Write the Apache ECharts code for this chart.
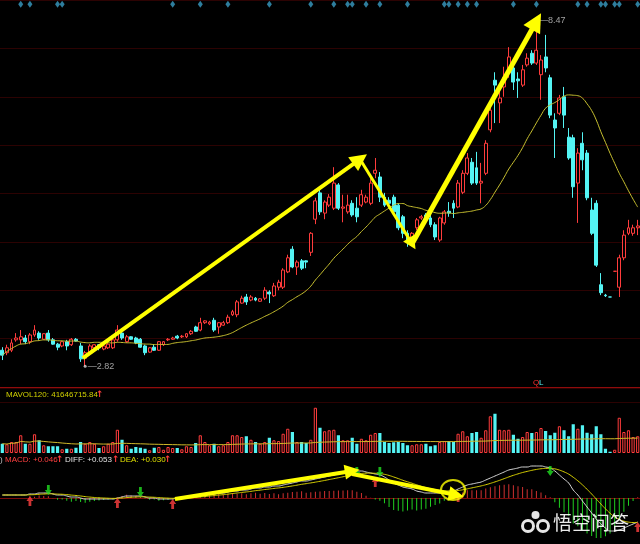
<!DOCTYPE html>
<html><head><meta charset="utf-8">
<script src="https://cdn.jsdelivr.net/npm/echarts@6/dist/echarts.min.js"></script>
<style>html,body{margin:0;padding:0;background:#000}#c{width:640px;height:544px}</style>
</head><body><div id="c"></div>
<script>
const opens = [3.08,3.04,3.08,3.25,3.25,3.28,3.22,3.33,3.36,3.26,
3.36,3.25,3.18,3.15,3.22,3.17,3.26,3.15,2.95,3.04,
3.12,3.17,3.10,3.12,3.12,3.25,3.36,3.22,3.30,3.28,
3.26,3.15,3.05,3.13,3.08,3.17,3.25,3.26,3.31,3.30,
3.30,3.35,3.46,3.41,3.53,3.51,3.57,3.46,3.49,3.53,
3.66,3.66,3.85,3.95,3.90,3.93,3.88,3.93,4.03,3.97,
4.11,4.11,4.36,4.73,4.44,4.54,4.54,4.68,5.22,5.65,
5.32,5.45,5.40,5.78,5.40,5.34,5.48,5.40,5.45,5.50,
5.48,5.97,5.91,5.58,5.53,5.58,5.45,5.26,4.99,4.88,
5.08,5.24,5.29,5.24,5.13,4.88,5.16,5.35,5.48,5.42,
5.66,5.97,6.15,6.06,5.81,5.97,6.68,7.49,7.12,7.38,
7.61,7.69,7.51,7.41,7.74,7.93,7.77,7.58,7.87,7.53,
6.84,6.95,7.22,6.56,6.55,5.81,6.46,6.30,5.37,5.48,
4.15,3.98,3.95,4.37,4.11,4.59,4.99,4.99,5.08];
const closes = [3.00,3.12,3.20,3.28,3.30,3.22,3.33,3.41,3.28,3.35,
3.25,3.18,3.13,3.22,3.15,3.26,3.23,2.94,3.04,3.15,
3.17,3.12,3.15,3.18,3.25,3.41,3.28,3.30,3.26,3.20,
3.13,3.04,3.12,3.08,3.22,3.22,3.26,3.28,3.28,3.31,
3.35,3.39,3.39,3.53,3.56,3.54,3.41,3.53,3.53,3.62,
3.71,3.87,3.93,3.87,3.95,3.90,3.92,4.06,4.00,4.13,
4.19,4.39,4.59,4.44,4.52,4.42,4.52,4.99,5.52,5.34,
5.50,5.58,5.81,5.40,5.42,5.45,5.29,5.26,5.62,5.58,
5.81,6.02,5.58,5.45,5.48,5.34,5.08,4.99,4.85,4.99,
5.21,5.26,5.24,5.13,4.93,5.24,5.34,5.32,5.40,5.81,
5.97,6.22,5.81,5.81,5.84,6.46,7.00,7.41,7.20,7.54,
7.87,7.46,7.48,7.66,7.85,7.77,7.98,7.82,7.69,6.92,
6.71,7.20,6.92,6.22,5.75,6.30,6.19,5.57,4.99,4.47,
4.02,3.97,3.95,4.37,4.59,4.96,5.08,5.08,5.11];
const lows = [2.92,3.00,3.05,3.22,3.18,3.18,3.18,3.30,3.25,3.25,
3.22,3.17,3.08,3.13,3.08,3.15,3.22,2.89,2.82,3.00,
3.10,3.08,3.08,3.10,3.10,3.22,3.25,3.20,3.25,3.18,
3.12,3.00,3.04,3.07,3.07,3.15,3.23,3.25,3.26,3.28,
3.28,3.33,3.38,3.39,3.51,3.49,3.38,3.35,3.48,3.51,
3.64,3.62,3.84,3.82,3.88,3.88,3.87,3.90,3.85,3.95,
4.06,4.08,4.34,4.42,4.31,4.39,4.42,4.62,5.14,5.29,
5.22,5.42,5.37,5.37,5.17,5.31,5.26,5.17,5.42,5.48,
5.45,5.89,5.50,5.42,5.45,5.31,5.04,4.91,4.77,4.83,
5.04,5.21,5.21,5.09,4.88,4.85,5.13,5.26,5.24,5.40,
5.63,5.94,5.78,5.78,5.48,5.94,6.64,6.79,6.79,7.22,
7.53,7.33,7.20,7.38,7.71,7.74,7.74,7.17,7.62,6.87,
6.22,6.92,6.71,6.19,5.57,5.16,6.02,5.53,4.96,4.44,
3.98,3.95,3.95,4.37,3.95,4.55,4.96,4.95,4.96];
const highs = [3.13,3.17,3.26,3.36,3.41,3.33,3.36,3.49,3.39,3.36,
3.41,3.28,3.20,3.23,3.25,3.28,3.28,3.20,3.07,3.18,
3.18,3.18,3.17,3.20,3.26,3.49,3.41,3.33,3.31,3.30,
3.28,3.17,3.13,3.17,3.23,3.23,3.28,3.30,3.33,3.33,
3.36,3.41,3.48,3.61,3.57,3.56,3.61,3.54,3.56,3.66,
3.74,3.90,3.97,4.00,3.98,3.95,3.93,4.11,4.06,4.18,
4.23,4.42,4.64,4.78,4.55,4.57,4.55,5.01,5.57,5.70,
5.53,5.63,6.07,5.81,5.62,5.62,5.53,5.58,5.70,5.62,
5.89,6.22,5.99,5.65,5.58,5.62,5.48,5.29,5.04,5.01,
5.24,5.29,5.32,5.29,5.17,5.26,5.37,5.50,5.53,5.86,
6.02,6.30,6.22,6.32,6.14,6.51,7.17,7.62,7.33,7.71,
8.03,7.74,7.62,7.74,7.93,7.98,8.47,7.90,8.23,7.58,
6.95,7.25,7.38,6.71,6.60,6.38,6.64,6.35,5.57,5.53,
4.34,4.00,3.95,4.37,4.64,5.04,5.21,5.13,5.21];
// volume, millions of shares
const volumes = [37,35,44,44,71,37,37,75,51,31,
27,27,27,15,17,17,21,44,37,44,
37,20,27,37,44,93,53,31,17,24,
21,17,11,21,24,13,24,20,20,15,
27,24,40,71,44,31,37,27,31,44,
71,71,64,67,53,44,37,44,61,51,
48,77,97,84,44,44,40,53,181,101,
87,91,93,71,51,51,61,37,57,51,
73,80,80,44,40,43,44,40,31,31,
35,35,37,27,31,44,48,48,44,77,
87,67,80,84,61,91,147,157,93,91,
93,73,57,64,84,80,84,100,88,71,
81,107,91,67,115,97,111,81,75,107,
75,17,5,13,141,84,91,64,67];
const diffValues = [0.03,0.03,0.03,0.03,0.03,0.03,0.04,0.04,0.05,0.05,
0.05,0.04,0.03,0.03,0.02,0.01,0.01,0.00,-0.01,-0.01,
-0.01,-0.01,-0.01,-0.01,-0.01,0.00,0.01,0.02,0.02,0.02,
0.02,0.01,0.00,0.00,-0.01,-0.01,-0.01,-0.01,0.00,0.00,
0.01,0.01,0.02,0.03,0.03,0.04,0.04,0.05,0.05,0.06,
0.07,0.07,0.08,0.08,0.09,0.10,0.10,0.11,0.11,0.12,
0.12,0.13,0.14,0.15,0.16,0.17,0.17,0.18,0.19,0.20,
0.21,0.22,0.23,0.24,0.25,0.26,0.27,0.27,0.27,0.26,
0.25,0.24,0.23,0.21,0.18,0.15,0.13,0.11,0.10,0.09,
0.07,0.06,0.05,0.05,0.05,0.05,0.06,0.06,0.07,0.09,
0.11,0.13,0.14,0.15,0.16,0.18,0.20,0.22,0.24,0.26,
0.28,0.29,0.30,0.31,0.31,0.32,0.32,0.32,0.31,0.30,
0.27,0.23,0.19,0.15,0.08,0.03,-0.03,-0.09,-0.15,-0.21,
-0.26,-0.30,-0.33,-0.33,-0.32,-0.30,-0.28,-0.26,-0.24];
const diamondIdx = [4,6,12,13,37,43,49,58,67,72,75,76,79,82,88,96,97,99,101,103,111,116,125,127,130,131,133,134,138];
const buySignals = [[6,-0.03],[25,-0.05],[37,-0.06],[81,0.16],[99,0.01],[138,-0.29]];
const sellSignals = [[10,0.08],[30,0.06],[77,0.26],[82,0.26],[119,0.27]];
const priceArrows = [
  {from:[17.5,2.95], to:[77.7,6.20], width:4, head:17},
  {from:[77.7,6.20], to:[89.0,4.82], width:3, head:13},
  {from:[89.0,4.82], to:[116.0,8.45], width:5, head:19}
];
const macdArrows = [
  {from:[37.5,-0.01], to:[76.0,0.27], width:4, head:15},
  {from:[76.0,0.24], to:[98.6,0.03], width:4, head:15}
];
const macdCircle = [[97.9,0.08]];
const lowMark = [18, 2.82];
const highMark = [116, 8.47];

const N = closes.length;
const categories = closes.map((_, i) => String(i + 1));
const RED = '#ff3c3c', CYAN = '#54f4f4', GREEN = '#20d020';

function movingAverage(arr, n) {
  return arr.map((_, i) => {
    const s = Math.max(0, i - n + 1); let sum = 0;
    for (let j = s; j <= i; j++) sum += arr[j];
    return +(sum / (i - s + 1)).toFixed(3);
  });
}
const ma20 = movingAverage(closes, 20);
const mavol120 = movingAverage(volumes, 120);
const dea = [];
diffValues.forEach((d, i) => dea.push(i === 0 ? d : dea[i - 1] * 0.8 + d * 0.2));
const macdHist = diffValues.map((d, i) => +(2 * (d - dea[i])).toFixed(4));

function isUp(i) {
  if (closes[i] > opens[i]) return true;
  if (closes[i] < opens[i]) return false;
  return i > 0 ? closes[i] >= closes[i - 1] : true;
}

const chart = echarts.init(document.getElementById('c'));
const arrowUp = 'path://M5 0 L10 6 L7 6 L7 12 L3 12 L3 6 L0 6 Z';
const txt = (x, y, text, color, size) => ({
  type: 'text', x, y, z: 100,
  style: { text, fill: color, font: (size || 8) + 'px "Liberation Sans", Arial, sans-serif', textVerticalAlign: 'middle' }
});
const upMark = (x, y) => ({ type: 'text', x, y, z: 100, style: { text: '↑', fill: RED, font: 'bold 9px "DejaVu Sans"', textVerticalAlign: 'middle' } });

chart.setOption({
  backgroundColor: '#000',
  animation: false,
  grid: [
    { left: 0, right: 0, top: 0, height: 387 },
    { left: 0, right: 0, top: 388, height: 65 },
    { left: 0, right: 0, top: 458, height: 81 }
  ],
  xAxis: [
    { type: 'category', gridIndex: 0, data: categories, axisLine: { lineStyle: { color: '#900c0c' } }, axisTick: { show: false }, axisLabel: { show: false } },
    { type: 'category', gridIndex: 1, data: categories, show: false },
    { type: 'category', gridIndex: 2, data: categories, axisLine: { lineStyle: { color: '#7a0a0a' } }, axisTick: { show: false }, axisLabel: { show: false } },
    { type: 'value', gridIndex: 0, min: -0.5, max: N - 0.5, show: false },
    { type: 'value', gridIndex: 2, min: -0.5, max: N - 0.5, show: false }
  ],
  yAxis: [
    { type: 'value', gridIndex: 0, min: 2.48, max: 8.80, interval: 0.79, axisLine: { show: false }, axisTick: { show: false }, axisLabel: { show: false },
      splitLine: { lineStyle: { color: '#2c0202' } } },
    { type: 'value', gridIndex: 1, min: 0, max: 260, interval: 204, axisLine: { show: false }, axisTick: { show: false }, axisLabel: { show: false },
      splitLine: { showMinLine: false, lineStyle: { color: '#2c0202' } } },
    { type: 'value', gridIndex: 2, min: -0.41, max: 0.40, axisLine: { show: false }, axisTick: { show: false }, axisLabel: { show: false }, splitLine: { show: false } }
  ],
  series: [
    { type: 'candlestick', xAxisIndex: 0, yAxisIndex: 0, barWidth: 3.4,
      data: categories.map((_, i) => [opens[i], closes[i], lows[i], highs[i]]),
      itemStyle: { color: '#000', color0: CYAN, borderColor: RED, borderColor0: CYAN, borderWidth: 1 } },
    { type: 'line', xAxisIndex: 0, yAxisIndex: 0, data: ma20, symbol: 'none', smooth: true,
      lineStyle: { color: '#c8c030', width: 1 } },
    { type: 'scatter', xAxisIndex: 0, yAxisIndex: 0, symbol: 'diamond', symbolSize: [5, 7],
      data: diamondIdx.map(i => [i, 8.73]), itemStyle: { color: '#3a9cc4' } },
    { type: 'scatter', xAxisIndex: 0, yAxisIndex: 0, symbol: 'circle', symbolSize: 3, z: 20,
      data: [lowMark, highMark], itemStyle: { color: '#d8d8d8' },
      label: { show: true, position: 'right', distance: 1, color: '#c8c8c8', fontSize: 9,
        fontFamily: 'Liberation Sans', formatter: p => '—' + p.value[1].toFixed(2) } },
    { type: 'lines', coordinateSystem: 'cartesian2d', xAxisIndex: 3, yAxisIndex: 0, z: 30,
      data: priceArrows.map(a => ({ coords: [a.from, a.to], lineStyle: { width: a.width }, symbolSize: a.head })),
      symbol: ['none', 'triangle'], symbolSize: 14,
      lineStyle: { color: '#ffff00', opacity: 1, curveness: 0 } },
    { type: 'bar', xAxisIndex: 1, yAxisIndex: 1, barWidth: 3.2,
      data: volumes.map((v, i) => ({ value: v, itemStyle: isUp(i)
        ? { color: '#000', borderColor: RED, borderWidth: 1 }
        : { color: CYAN } })) },
    { type: 'line', xAxisIndex: 1, yAxisIndex: 1, data: mavol120, symbol: 'none',
      lineStyle: { color: '#d0b828', width: 1 } },
    { type: 'bar', xAxisIndex: 2, yAxisIndex: 2, barWidth: 1,
      data: macdHist.map(v => ({ value: v, itemStyle: { color: v >= 0 ? '#d03030' : GREEN } })) },
    { type: 'line', xAxisIndex: 2, yAxisIndex: 2, data: diffValues, symbol: 'none', smooth: true,
      lineStyle: { color: '#d8d8d8', width: 1 } },
    { type: 'line', xAxisIndex: 2, yAxisIndex: 2, data: dea.map(v => +v.toFixed(4)), symbol: 'none', smooth: true,
      lineStyle: { color: '#d8d000', width: 1 } },
    { type: 'scatter', xAxisIndex: 2, yAxisIndex: 2, symbol: arrowUp, symbolSize: [7, 10], z: 25,
      data: buySignals, itemStyle: { color: '#ff4040' } },
    { type: 'scatter', xAxisIndex: 2, yAxisIndex: 2, symbol: arrowUp, symbolRotate: 180, symbolSize: [7, 10], z: 25,
      data: sellSignals, itemStyle: { color: '#20e020' } },
    { type: 'lines', coordinateSystem: 'cartesian2d', xAxisIndex: 4, yAxisIndex: 2, z: 30,
      data: macdArrows.map(a => ({ coords: [a.from, a.to], lineStyle: { width: a.width }, symbolSize: a.head })),
      symbol: ['none', 'triangle'], symbolSize: 14,
      lineStyle: { color: '#ffff00', opacity: 1, curveness: 0 } },
    { type: 'scatter', xAxisIndex: 4, yAxisIndex: 2, symbol: 'circle', symbolSize: [24, 20], z: 31,
      data: macdCircle, itemStyle: { color: 'rgba(0,0,0,0)', borderColor: '#ffff00', borderWidth: 2 } }
  ],
  graphic: [
    txt(6, 395, 'MAVOL120: 41646715.84', '#d0d000', 8),
    upMark(96, 395),
    txt(0, 460, ')', '#c0c0c0', 8),
    txt(5, 460, 'MACD: +0.046', '#ff4040', 8),
    upMark(56, 460),
    txt(65, 460, 'DIFF: +0.053', '#e0e0e0', 8),
    upMark(112, 460),
    txt(120, 460, 'DEA: +0.030', '#e0e000', 8),
    upMark(164, 460),
    txt(533, 383, 'Q', '#ff3030', 8),
    txt(539, 383, 'L', CYAN, 8),
    { type: 'group', z: 100, children: [
      { type: 'circle', shape: { cx: 528, cy: 526, r: 5.5 }, style: { fill: 'none', stroke: 'rgba(255,255,255,0.9)', lineWidth: 3 }, z: 100 },
      { type: 'circle', shape: { cx: 543, cy: 526, r: 5.5 }, style: { fill: 'none', stroke: 'rgba(255,255,255,0.9)', lineWidth: 3 }, z: 100 },
      { type: 'circle', shape: { cx: 535.5, cy: 515, r: 4 }, style: { fill: 'rgba(255,255,255,0.9)' }, z: 100 }
    ] },
    { type: 'text', x: 553, y: 523, z: 100, style: { text: '悟空问答', fill: 'rgba(255,255,255,0.92)',
      font: '19px "Noto Sans CJK SC"', textVerticalAlign: 'middle', shadowColor: 'rgba(0,0,0,0.6)', shadowBlur: 3 } }
  ]
});
</script></body></html>
